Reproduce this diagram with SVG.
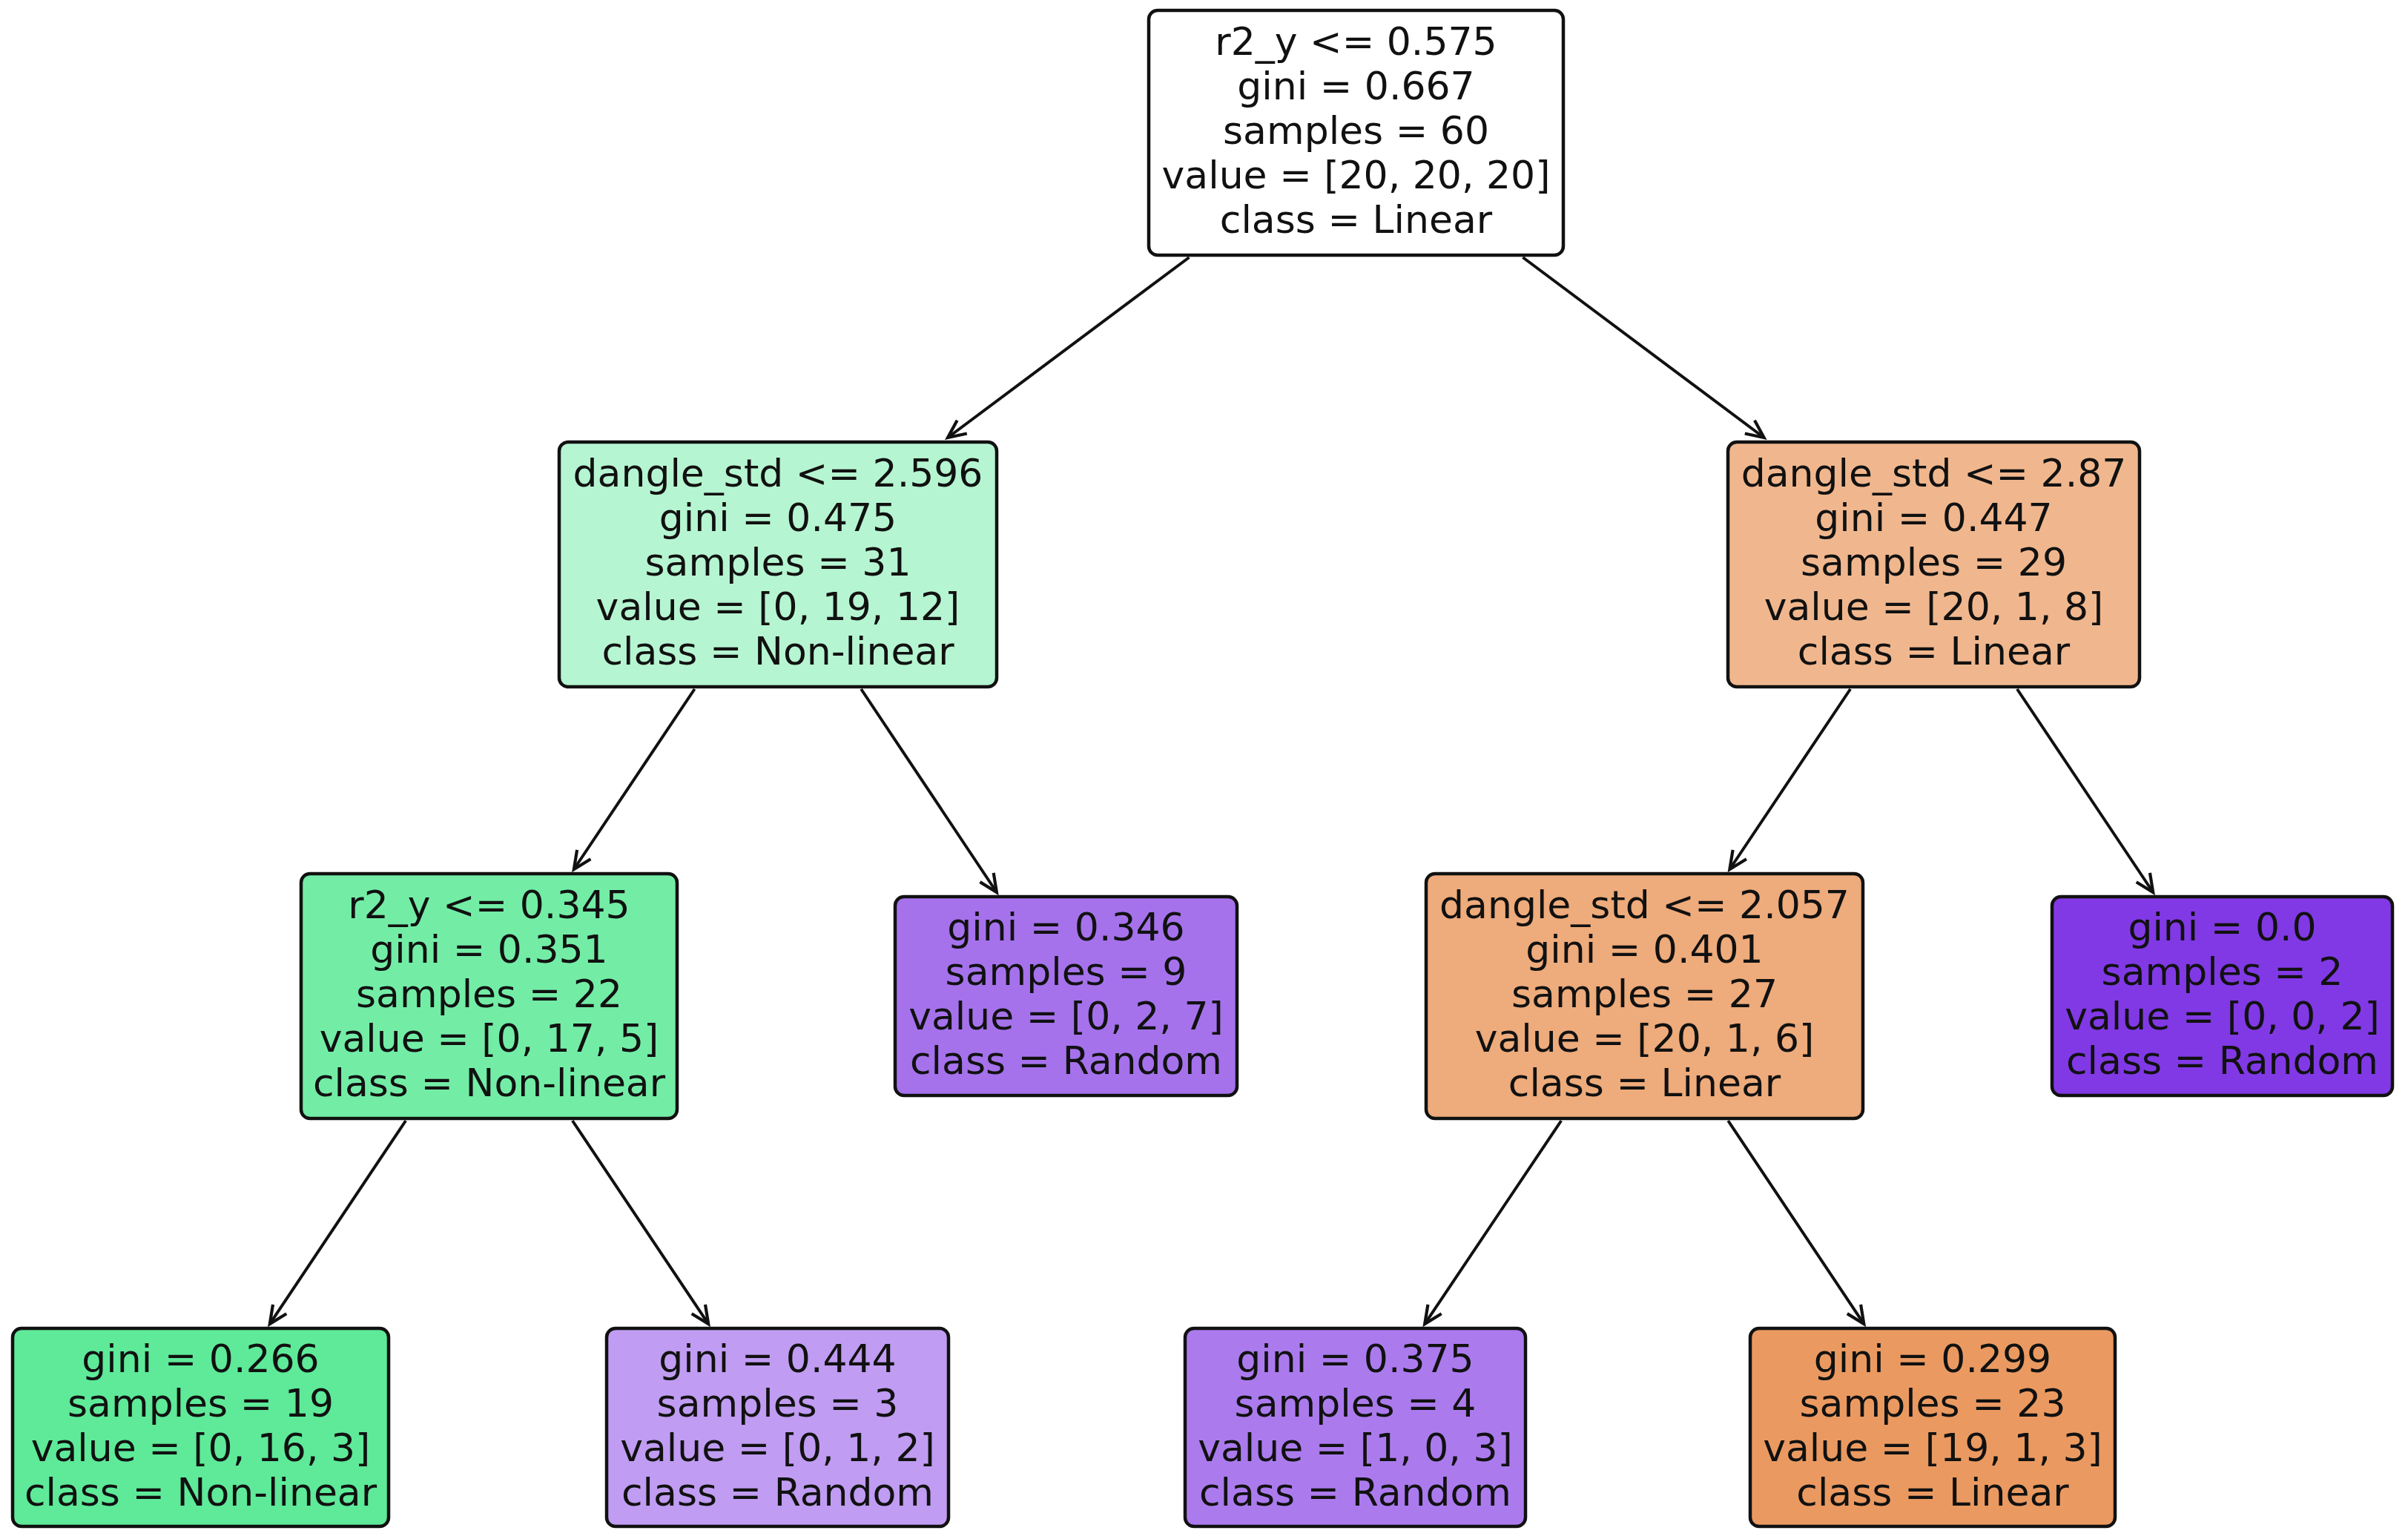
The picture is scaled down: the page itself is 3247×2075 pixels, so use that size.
<svg xmlns="http://www.w3.org/2000/svg" width="3247" height="2075" viewBox="0 0 3247 2075">
<defs>
<style>
.box{stroke:#111;stroke-width:4.5}
.t{font-family:"DejaVu Sans","Liberation Sans",sans-serif;font-size:52px;fill:#111;text-anchor:middle}
.e{stroke:#111;stroke-width:4;fill:none}
</style>
<marker id="ah" markerUnits="userSpaceOnUse" markerWidth="40" markerHeight="40" viewBox="0 0 40 40" refX="30" refY="20" orient="auto">
<path d="M6,9 L30,20 L6,31" fill="none" stroke="#111" stroke-width="4.2"/>
</marker>
</defs>
<rect width="3247" height="2075" fill="#fff"/>
<g id="edges">
<line class="e" x1="1603.5" y1="347" x2="1278" y2="590" marker-end="url(#ah)"/>
<line class="e" x1="2053.4" y1="347" x2="2378.6" y2="590" marker-end="url(#ah)"/>
<line class="e" x1="936.6" y1="929" x2="773.9" y2="1172" marker-end="url(#ah)"/>
<line class="e" x1="1161.1" y1="929" x2="1343.9" y2="1203" marker-end="url(#ah)"/>
<line class="e" x1="2495.1" y1="929" x2="2332.4" y2="1172" marker-end="url(#ah)"/>
<line class="e" x1="2719.9" y1="929" x2="2903.2" y2="1203" marker-end="url(#ah)"/>
<line class="e" x1="547.1" y1="1511" x2="363.8" y2="1785" marker-end="url(#ah)"/>
<line class="e" x1="771.9" y1="1511" x2="955.2" y2="1785" marker-end="url(#ah)"/>
<line class="e" x1="2105.2" y1="1511" x2="1921.2" y2="1785" marker-end="url(#ah)"/>
<line class="e" x1="2330.2" y1="1511" x2="2513.3" y2="1785" marker-end="url(#ah)"/>
</g>
<g id="n0">
<rect class="box" x="1549" y="14" width="559" height="330" rx="12" fill="#ffffff"/>
<text class="t" x="1828.5" y="74">r2_y &lt;= 0.575</text>
<text class="t" x="1828.5" y="134">gini = 0.667</text>
<text class="t" x="1828.5" y="194">samples = 60</text>
<text class="t" x="1828.5" y="254">value = [20, 20, 20]</text>
<text class="t" x="1828.5" y="314">class = Linear</text>
</g>
<g id="n1">
<rect class="box" x="754" y="596" width="590" height="330" rx="12" fill="#b6f5d1"/>
<text class="t" x="1049" y="656">dangle_std &lt;= 2.596</text>
<text class="t" x="1049" y="716">gini = 0.475</text>
<text class="t" x="1049" y="776">samples = 31</text>
<text class="t" x="1049" y="836">value = [0, 19, 12]</text>
<text class="t" x="1049" y="896">class = Non-linear</text>
</g>
<g id="n2">
<rect class="box" x="2330" y="596" width="555" height="330" rx="12" fill="#f0b78e"/>
<text class="t" x="2607.5" y="656">dangle_std &lt;= 2.87</text>
<text class="t" x="2607.5" y="716">gini = 0.447</text>
<text class="t" x="2607.5" y="776">samples = 29</text>
<text class="t" x="2607.5" y="836">value = [20, 1, 8]</text>
<text class="t" x="2607.5" y="896">class = Linear</text>
</g>
<g id="n3">
<rect class="box" x="406" y="1178" width="507" height="330" rx="12" fill="#73eda6"/>
<text class="t" x="659.5" y="1238">r2_y &lt;= 0.345</text>
<text class="t" x="659.5" y="1298">gini = 0.351</text>
<text class="t" x="659.5" y="1358">samples = 22</text>
<text class="t" x="659.5" y="1418">value = [0, 17, 5]</text>
<text class="t" x="659.5" y="1478">class = Non-linear</text>
</g>
<g id="n4">
<rect class="box" x="1207" y="1209" width="461" height="268" rx="12" fill="#a572ec"/>
<text class="t" x="1437.5" y="1268">gini = 0.346</text>
<text class="t" x="1437.5" y="1328">samples = 9</text>
<text class="t" x="1437.5" y="1388">value = [0, 2, 7]</text>
<text class="t" x="1437.5" y="1448">class = Random</text>
</g>
<g id="n5">
<rect class="box" x="1923" y="1178" width="589" height="330" rx="12" fill="#eeab7b"/>
<text class="t" x="2217.5" y="1238">dangle_std &lt;= 2.057</text>
<text class="t" x="2217.5" y="1298">gini = 0.401</text>
<text class="t" x="2217.5" y="1358">samples = 27</text>
<text class="t" x="2217.5" y="1418">value = [20, 1, 6]</text>
<text class="t" x="2217.5" y="1478">class = Linear</text>
</g>
<g id="n6">
<rect class="box" x="2767" y="1209" width="459" height="268" rx="12" fill="#8139e5"/>
<text class="t" x="2996.5" y="1268">gini = 0.0</text>
<text class="t" x="2996.5" y="1328">samples = 2</text>
<text class="t" x="2996.5" y="1388">value = [0, 0, 2]</text>
<text class="t" x="2996.5" y="1448">class = Random</text>
</g>
<g id="n7">
<rect class="box" x="17" y="1791" width="507" height="267" rx="12" fill="#5eea99"/>
<text class="t" x="270.5" y="1850">gini = 0.266</text>
<text class="t" x="270.5" y="1910">samples = 19</text>
<text class="t" x="270.5" y="1970">value = [0, 16, 3]</text>
<text class="t" x="270.5" y="2030">class = Non-linear</text>
</g>
<g id="n8">
<rect class="box" x="818" y="1791" width="461" height="267" rx="12" fill="#c09cf2"/>
<text class="t" x="1048.5" y="1850">gini = 0.444</text>
<text class="t" x="1048.5" y="1910">samples = 3</text>
<text class="t" x="1048.5" y="1970">value = [0, 1, 2]</text>
<text class="t" x="1048.5" y="2030">class = Random</text>
</g>
<g id="n9">
<rect class="box" x="1598" y="1791" width="459" height="267" rx="12" fill="#ab7bee"/>
<text class="t" x="1827.5" y="1850">gini = 0.375</text>
<text class="t" x="1827.5" y="1910">samples = 4</text>
<text class="t" x="1827.5" y="1970">value = [1, 0, 3]</text>
<text class="t" x="1827.5" y="2030">class = Random</text>
</g>
<g id="n10">
<rect class="box" x="2360" y="1791" width="492" height="267" rx="12" fill="#ea9a61"/>
<text class="t" x="2606" y="1850">gini = 0.299</text>
<text class="t" x="2606" y="1910">samples = 23</text>
<text class="t" x="2606" y="1970">value = [19, 1, 3]</text>
<text class="t" x="2606" y="2030">class = Linear</text>
</g>
</svg>
